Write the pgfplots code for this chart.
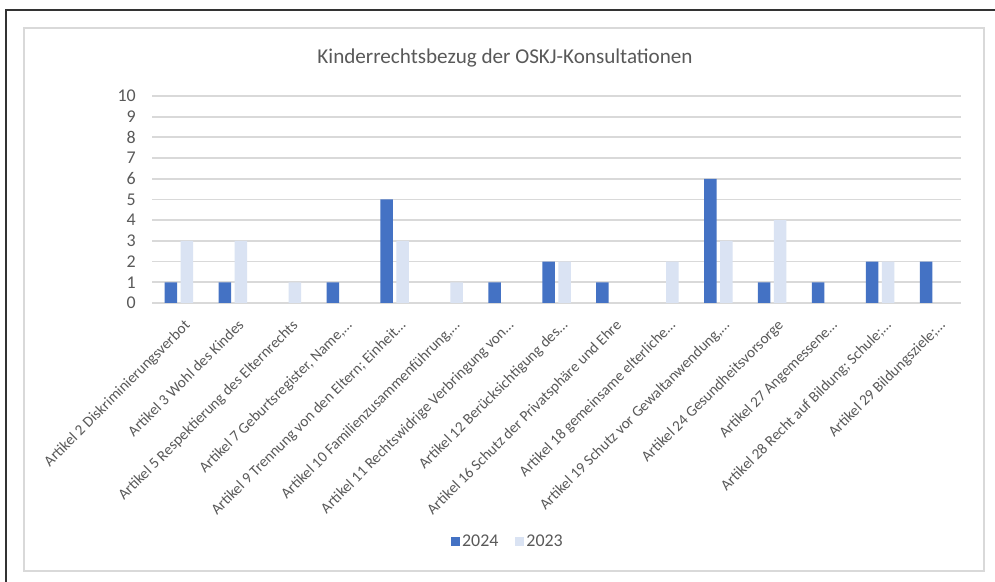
\documentclass[border=0pt]{standalone}
\usepackage{fontspec}
\setmainfont{Carlito}
\usepackage{pgfplots}
\pgfplotsset{compat=1.18}
\definecolor{c24}{HTML}{4472C4}
\definecolor{c23}{HTML}{DAE3F3}
\definecolor{gridc}{HTML}{D9D9D9}
\definecolor{txt}{HTML}{595959}
\begin{document}
\begin{tikzpicture}[x=1bp,y=1bp]
\useasboundingbox (0,0) rectangle (995,582);
\fill[white] (0,0) rectangle (995,582);
\draw[line width=2bp, color=black!80] (6,0) -- (6,572) -- (995,572);
\draw[line width=2bp, gridc] (24,11) rectangle (984,554);
\node[txt, font=\fontsize{21.2}{25}\selectfont] at (505,524) {Kinderrechtsbezug der OSKJ-Konsultationen};
\begin{axis}[
  at={(152bp,279bp)}, anchor=south west,
  scale only axis, width=809bp, height=207bp,
  ymin=0, ymax=10, xmin=-0.5, xmax=14.5,
  ytick={0,...,10},
  xtick={0,...,14},
  xticklabels={
    {Artikel 2 Diskriminierungsverbot},
    {Artikel 3 Wohl des Kindes},
    {Artikel 5 Respektierung des Elternrechts},
    {Artikel 7 Geburtsregister, Name,…},
    {Artikel 9 Trennung von den Eltern; Einheit…},
    {Artikel 10 Familienzusammenführung,…},
    {Artikel 11 Rechtswidrige Verbringung von…},
    {Artikel 12 Berücksichtigung des…},
    {Artikel 16 Schutz der Privatsphäre und Ehre},
    {Artikel 18 gemeinsame elterliche…},
    {Artikel 19 Schutz vor Gewaltanwendung,…},
    {Artikel 24 Gesundheitsvorsorge},
    {Artikel 27 Angemessene…},
    {Artikel 28 Recht auf Bildung; Schule;…},
    {Artikel 29 Bildungsziele;…}},
  ymajorgrids, grid style={gridc, line width=1.8bp},
  axis line style={draw=none},
  major tick length=0pt,
  xticklabel style={rotate=45, anchor=north east, font=\fontsize{15.3}{18}\selectfont, text=txt, inner sep=0pt, xshift=-8bp, yshift=-14bp},
  yticklabel style={font=\fontsize{18}{20}\selectfont, text=txt, inner sep=0pt, xshift=-16bp},
  /pgf/number format/assume math mode=true,
  ybar=3.5bp, bar width=12.5bp,
  y filter/.expression={y==0 ? nan : y},
  legend style={at={(0.44,-1.15)}, anchor=center, draw=none, fill=none, legend columns=2,
    font=\fontsize{18}{20}\selectfont, text=txt,
    /tikz/every even column/.append style={column sep=15bp}},
  legend image code/.code={\fill[#1, draw=none] (0bp,-4.5bp) rectangle (9bp,4.5bp);},
]
\addplot[fill=c24, draw=none] coordinates {(0,1) (1,1) (2,0) (3,1) (4,5) (5,0) (6,1) (7,2) (8,1) (9,0) (10,6) (11,1) (12,1) (13,2) (14,2)};
\addplot[fill=c23, draw=none] coordinates {(0,3) (1,3) (2,1) (3,0) (4,3) (5,1) (6,0) (7,2) (8,0) (9,2) (10,3) (11,4) (12,0) (13,2) (14,0)};
\legend{2024,2023}
\end{axis}
\end{tikzpicture}
\end{document}
